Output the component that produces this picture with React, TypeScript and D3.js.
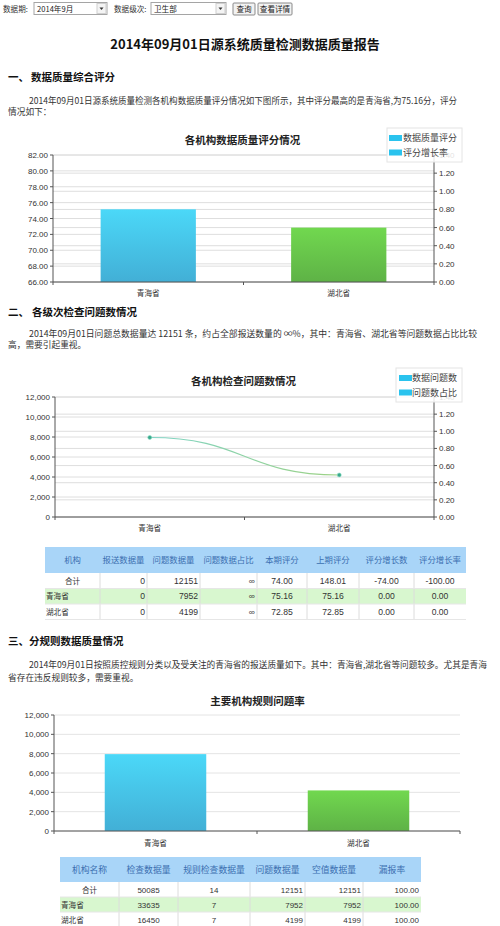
import React from 'react';
import * as d3 from 'd3';

const categories = ['青海省', '湖北省'];
const scoreValues = [75.16, 72.85];
const scoreTicks = [66, 68, 70, 72, 74, 76, 78, 80, 82];
const rateTicks = [0, 0.2, 0.4, 0.6, 0.8, 1.0, 1.2, 1.4];
const problemValues = [7952, 4199];
const countTicks = [0, 2000, 4000, 6000, 8000, 10000, 12000];
const ruleProblemValues = [7952, 4199];
const legend1 = ['数据质量评分', '评分增长率'];
const legend2 = ['数据问题数', '问题数占比'];

const table1Headers = ['机构', '报送数据量', '问题数据量', '问题数据占比', '本期评分', '上期评分', '评分增长数', '评分增长率'];
const table1Rows = [
  ['合计', '0', '12151', '∞', '74.00', '148.01', '-74.00', '-100.00'],
  ['青海省', '0', '7952', '∞', '75.16', '75.16', '0.00', '0.00'],
  ['湖北省', '0', '4199', '∞', '72.85', '72.85', '0.00', '0.00'],
];
const table2Headers = ['机构名称', '检查数据量', '规则检查数据量', '问题数据量', '空值数据量', '漏报率'];
const table2Rows = [
  ['合计', '50085', '14', '12151', '12151', '100.00'],
  ['青海省', '33635', '7', '7952', '7952', '100.00'],
  ['湖北省', '16450', '7', '4199', '4199', '100.00'],
];

const CJK = '"Noto Sans CJK SC", "Microsoft YaHei", sans-serif';
const NUM = '"Liberation Sans", Arial, sans-serif';
const GRID = '#dedede';
const AXIS = '#555';

type Align = 'start' | 'middle' | 'end';

function Table({ x0, cols, headerY, headerH, rowH, headers, rows, aligns, numSize, headSize }: any) {
  const rowYs = rows.map((_: any, i: number) => headerY + headerH + i * rowH);
  const right = cols[cols.length - 1];
  return (
    <g>
      <rect x={x0} y={headerY} width={right - x0} height={headerH} fill="#a9d5f8" />
      {rows.map((r: string[], i: number) => (
        <rect key={i} x={x0} y={rowYs[i]} width={right - x0} height={rowH} fill={i === 1 ? '#d8f7cf' : '#fff'} />
      ))}
      {cols.slice(0, -1).map((c: number, i: number) => (
        <line key={'v' + i} x1={c} x2={c} y1={headerY + headerH} y2={headerY + headerH + rows.length * rowH} stroke="#dcdcdc" />
      ))}
      {rows.map((_: any, i: number) => (
        <line key={'h' + i} x1={x0} x2={right} y1={rowYs[i] + rowH} y2={rowYs[i] + rowH} stroke="#e6e6e6" />
      ))}
      {headers.map((h: string, i: number) => {
        const l = i === 0 ? x0 : cols[i - 1];
        const r = cols[i];
        return (
          <text key={'hd' + i} x={(l + r) / 2} y={headerY + headerH / 2 + 3} textAnchor="middle" fontFamily={CJK} fontSize={headSize} fill="#3b6fb0">{h}</text>
        );
      })}
      {rows.map((row: string[], ri: number) =>
        row.map((cell: string, ci: number) => {
          const l = ci === 0 ? x0 : cols[ci - 1];
          const r = cols[ci];
          let a: Align = aligns[ci];
          if (ci === 0) a = ri === 0 ? 'middle' : 'start';
          const x = a === 'start' ? l + 1 : a === 'end' ? r - 2 : (l + r) / 2;
          const isCjk = /[\u4e00-\u9fff]/.test(cell);
          return (
            <text key={ri + '-' + ci} x={x} y={rowYs[ri] + rowH / 2 + 3} textAnchor={a} fontFamily={isCjk ? CJK : NUM} fontSize={isCjk ? 7.6 : numSize} fill="#333">{cell}</text>
          );
        })
      )}
    </g>
  );
}

function LeftAxis({ scale, ticks, x, fmt }: any) {
  const [r0, r1] = scale.range();
  return (
    <g>
      <line x1={x} x2={x} y1={r0} y2={r1} stroke={AXIS} />
      {ticks.map((t: number) => (
        <g key={t}>
          <line x1={x - 3} x2={x} y1={scale(t)} y2={scale(t)} stroke={AXIS} />
          <text x={x - 5} y={scale(t) + 3} textAnchor="end" fontFamily={NUM} fontSize={8} fill="#333">{fmt(t)}</text>
        </g>
      ))}
    </g>
  );
}

function RightAxis({ scale, ticks, x, fmt }: any) {
  const [r0, r1] = scale.range();
  return (
    <g>
      <line x1={x} x2={x} y1={r0} y2={r1} stroke={AXIS} />
      {ticks.map((t: number) => (
        <g key={t}>
          <line x1={x} x2={x + 3} y1={scale(t)} y2={scale(t)} stroke={AXIS} />
          <text x={x + 5} y={scale(t) + 3} textAnchor="start" fontFamily={NUM} fontSize={8} fill="#333">{fmt(t)}</text>
        </g>
      ))}
    </g>
  );
}

function BottomAxis({ xScale, y, labelY }: any) {
  const [a, b] = xScale.range();
  const step = xScale.step();
  const bounds = [a, a + step, b];
  return (
    <g>
      <line x1={a} x2={b} y1={y} y2={y} stroke={AXIS} />
      {bounds.map((bx: number, i: number) => (
        <line key={i} x1={bx} x2={bx} y1={y} y2={y + 3} stroke={AXIS} />
      ))}
      {xScale.domain().map((c: string) => (
        <text key={c} x={xScale(c) + xScale.bandwidth() / 2} y={labelY} textAnchor="middle" fontFamily={CJK} fontSize={7.6} fill="#333">{c}</text>
      ))}
    </g>
  );
}

function Legend({ x, y, w, h, items, sx, tx }: any) {
  return (
    <g>
      <rect x={x} y={y} width={w} height={h} fill="rgba(255,255,255,0.85)" stroke="#e4e4e4" />
      {items.map((it: string, i: number) => (
        <g key={it}>
          <rect x={sx} y={y + 7 + i * 14.5} width={13} height={6} fill="#2ac3ee" />
          <text x={tx} y={y + 13.3 + i * 14.5} fontFamily={CJK} fontSize={9} fill="#444">{it}</text>
        </g>
      ))}
    </g>
  );
}

const fmt2 = d3.format('.2f');
const fmtComma = d3.format(',');

function Chart1() {
  const x = d3.scaleBand<string>().domain(categories).range([53, 434]).paddingInner(0.5).paddingOuter(0.25);
  const yL = d3.scaleLinear().domain([66, 82]).range([282, 155]);
  const yR = d3.scaleLinear().domain([0, 1.4]).range([282, 155]);
  const fills = ['url(#gCyan)', 'url(#gGreen)'];
  return (
    <g>
      <text x={242.5} y={144} textAnchor="middle" fontFamily={CJK} fontSize={10.5} fontWeight="bold" fill="#222">各机构数据质量评分情况</text>
      {scoreTicks.map((t) => <line key={'l' + t} x1={53} x2={434} y1={yL(t)} y2={yL(t)} stroke={GRID} />)}
      {rateTicks.map((t) => <line key={'r' + t} x1={53} x2={434} y1={yR(t)} y2={yR(t)} stroke={GRID} />)}
      {categories.map((c, i) => (
        <rect key={c} x={x(c)} y={yL(scoreValues[i])} width={x.bandwidth()} height={yL(66) - yL(scoreValues[i])} fill={fills[i]} />
      ))}
      <LeftAxis scale={yL} ticks={scoreTicks} x={53} fmt={fmt2} />
      <RightAxis scale={yR} ticks={rateTicks} x={434} fmt={fmt2} />
      <BottomAxis xScale={x} y={282} labelY={296} />
      <Legend x={387} y={128} w={75} h={34} items={legend1} sx={389} tx={403} />
    </g>
  );
}

function Chart2() {
  const x = d3.scaleBand<string>().domain(categories).range([55, 434]).paddingInner(0.5).paddingOuter(0.25);
  const yL = d3.scaleLinear().domain([0, 12000]).range([517, 397]);
  const yR = d3.scaleLinear().domain([0, 1.4]).range([517, 397]);
  const pts: [number, number][] = categories.map((c, i) => [(x(c) as number) + x.bandwidth() / 2, yL(problemValues[i])]);
  const line = d3.line().curve(d3.curveBumpX)(pts) as string;
  return (
    <g>
      <text x={243.5} y={384.5} textAnchor="middle" fontFamily={CJK} fontSize={10.5} fontWeight="bold" fill="#222">各机构检查问题数情况</text>
      {countTicks.map((t) => <line key={'l' + t} x1={55} x2={434} y1={yL(t)} y2={yL(t)} stroke={GRID} />)}
      {rateTicks.map((t) => <line key={'r' + t} x1={55} x2={434} y1={yR(t)} y2={yR(t)} stroke={GRID} />)}
      <path d={line} fill="none" stroke="url(#gLine)" strokeWidth={1.2} />
      {pts.map((p, i) => (
        <circle key={i} cx={p[0]} cy={p[1]} r={2} fill="#3aa88c" stroke="#8fe0c8" strokeWidth={0.6} />
      ))}
      <LeftAxis scale={yL} ticks={countTicks} x={55} fmt={fmtComma} />
      <RightAxis scale={yR} ticks={rateTicks} x={434} fmt={fmt2} />
      <BottomAxis xScale={x} y={517} labelY={530.5} />
      <Legend x={396} y={368} w={66} h={34} items={legend2} sx={399} tx={412} />
    </g>
  );
}

function Chart3() {
  const x = d3.scaleBand<string>().domain(categories).range([54, 460]).paddingInner(0.5).paddingOuter(0.25);
  const y = d3.scaleLinear().domain([0, 12000]).range([831, 715]);
  const fills = ['url(#gCyan)', 'url(#gGreen)'];
  return (
    <g>
      <text x={257.5} y={705} textAnchor="middle" fontFamily={CJK} fontSize={10.5} fontWeight="bold" fill="#222">主要机构规则问题率</text>
      {countTicks.map((t) => <line key={t} x1={54} x2={460} y1={y(t)} y2={y(t)} stroke="#e4e4e4" />)}
      {categories.map((c, i) => (
        <rect key={c} x={x(c)} y={y(ruleProblemValues[i])} width={x.bandwidth()} height={y(0) - y(ruleProblemValues[i])} fill={fills[i]} />
      ))}
      <LeftAxis scale={y} ticks={countTicks} x={54} fmt={fmtComma} />
      <BottomAxis xScale={x} y={831} labelY={845.5} />
    </g>
  );
}

function Select({ x, w, label }: any) {
  return (
    <g>
      <rect x={x} y={2.5} width={w} height={12} fill="#fff" stroke="#a5a5a5" />
      <text x={x + 3} y={11.5} fontFamily={CJK} fontSize={7.6} fill="#222">{label}</text>
      <rect x={x + w - 10} y={3.5} width={9} height={10} fill="#f4f4f4" stroke="#cfcfcf" />
      <path d={`M${x + w - 7.5},7.5 L${x + w - 3.5},7.5 L${x + w - 5.5},10 Z`} fill="#333" />
    </g>
  );
}

function Button({ x, w, label }: any) {
  return (
    <g>
      <rect x={x} y={3} width={w} height={12} fill="#f2f2f2" stroke="#8a8a8a" rx={1} />
      <text x={x + w / 2} y={12} textAnchor="middle" fontFamily={CJK} fontSize={7.6} fill="#222">{label}</text>
    </g>
  );
}

export default function App() {
  const P = 8.7;
  return (
    <svg width={500} height={926} style={{ position: 'absolute', left: 0, top: 0, background: '#fff' }}>
      <defs>
        <linearGradient id="gCyan" x1="0" y1="0" x2="0" y2="1">
          <stop offset="0" stopColor="#4bd8f8" />
          <stop offset="1" stopColor="#42afd6" />
        </linearGradient>
        <linearGradient id="gGreen" x1="0" y1="0" x2="0" y2="1">
          <stop offset="0" stopColor="#71d84f" />
          <stop offset="1" stopColor="#5eb246" />
        </linearGradient>
        <linearGradient id="gLine" x1="0" y1="0" x2="1" y2="0">
          <stop offset="0" stopColor="#7fd4c6" />
          <stop offset="1" stopColor="#9cd183" />
        </linearGradient>
      </defs>
      <rect x={0} y={0} width={500} height={926} fill="#fff" />

      {/* top bar */}
      <text x={3} y={11.5} fontFamily={CJK} fontSize={7.6} fill="#333">数据期:</text>
      <Select x={34} w={73} label="2014年9月" />
      <text x={114} y={11.5} fontFamily={CJK} fontSize={7.6} fill="#333">数据级次:</text>
      <Select x={151} w={75} label="卫生部" />
      <Button x={233} w={22} label="查询" />
      <Button x={258} w={34} label="查看详情" />

      <text x={245} y={49} textAnchor="middle" fontFamily={CJK} fontSize={13} fontWeight="bold" fill="#111">2014年09月01日源系统质量检测数据质量报告</text>

      <text x={8} y={81} fontFamily={CJK} fontSize={10.5} fontWeight="bold" fill="#111">一、</text>
      <text x={31} y={81} fontFamily={CJK} fontSize={10.5} fontWeight="bold" fill="#111">数据质量综合评分</text>
      <text x={29} y={104} fontFamily={CJK} fontSize={P} fill="#333" textLength={428} lengthAdjust="spacingAndGlyphs">2014年09月01日源系统质量检测各机构数据质量评分情况如下图所示，其中评分最高的是青海省,为75.16分，评分</text>
      <text x={8} y={115} fontFamily={CJK} fontSize={P} fill="#333">情况如下：</text>

      <Chart1 />

      <text x={8} y={316} fontFamily={CJK} fontSize={10.5} fontWeight="bold" fill="#111">二、</text>
      <text x={32} y={316} fontFamily={CJK} fontSize={10.5} fontWeight="bold" fill="#111">各级次检查问题数情况</text>
      <text x={29} y={336.5} fontFamily={CJK} fontSize={P} fill="#333" textLength={448} lengthAdjust="spacingAndGlyphs">2014年09月01日问题总数据量达 12151 条，约占全部报送数量的 ∞%，其中：青海省、湖北省等问题数据占比比较</text>
      <text x={8} y={347.5} fontFamily={CJK} fontSize={P} fill="#333">高，需要引起重视。</text>

      <Chart2 />

      <Table x0={45} cols={[100, 147, 200, 257, 307, 359, 414, 466]} headerY={547} headerH={26} rowH={15.5}
        headers={table1Headers} rows={table1Rows}
        aligns={['start', 'end', 'end', 'end', 'middle', 'middle', 'middle', 'middle']} numSize={8.6} headSize={8.4} />

      <text x={8} y={645} fontFamily={CJK} fontSize={10.5} fontWeight="bold" fill="#111">三、分规则数据质量情况</text>
      <text x={29} y={668} fontFamily={CJK} fontSize={P} fill="#333" textLength={458} lengthAdjust="spacingAndGlyphs">2014年09月01日按照质控规则分类以及受关注的青海省的报送质量如下。其中：青海省,湖北省等问题较多。尤其是青海</text>
      <text x={8} y={681} fontFamily={CJK} fontSize={P} fill="#333">省存在违反规则较多，需要重视。</text>

      <Chart3 />

      <Table x0={60} cols={[119, 178, 250, 305, 363, 421]} headerY={857} headerH={25} rowH={15}
        headers={table2Headers} rows={table2Rows}
        aligns={['start', 'middle', 'middle', 'end', 'end', 'end']} numSize={8} headSize={8.8} />
    </svg>
  );
}
